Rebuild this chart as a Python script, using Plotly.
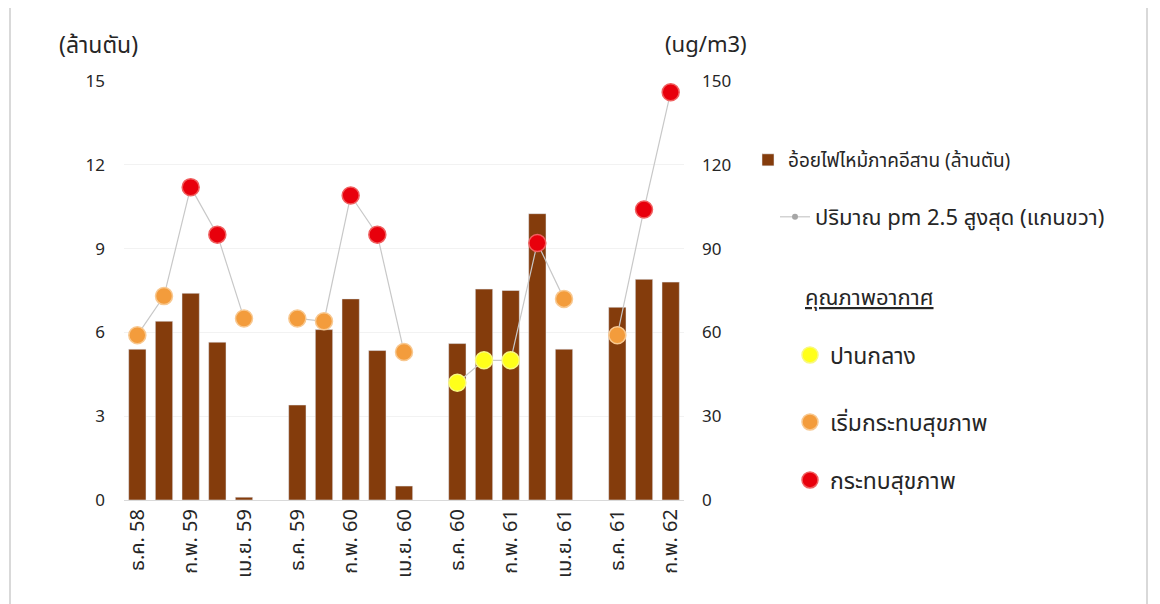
import plotly.graph_objects as go

categories = ["ธ.ค. 58", "ม.ค. 59", "ก.พ. 59", "มี.ค. 59", "เม.ย. 59", " ",
              "ธ.ค. 59", "ม.ค. 60", "ก.พ. 60", "มี.ค. 60", "เม.ย. 60", "  ",
              "ธ.ค. 60", "ม.ค. 61", "ก.พ. 61", "มี.ค. 61", "เม.ย. 61", "   ",
              "ธ.ค. 61", "ม.ค. 62", "ก.พ. 62"]
tick_labels = ["ธ.ค. 58", "ก.พ. 59", "เม.ย. 59", "ธ.ค. 59", "ก.พ. 60", "เม.ย. 60",
               "ธ.ค. 60", "ก.พ. 61", "เม.ย. 61", "ธ.ค. 61", "ก.พ. 62"]
sugarcane = [5.4, 6.4, 7.4, 5.65, 0.1, None,
             3.4, 6.1, 7.2, 5.35, 0.5, None,
             5.6, 7.55, 7.5, 10.25, 5.4, None,
             6.9, 7.9, 7.8]
pm25 = [59, 73, 112, 95, 65, None,
        65, 64, 109, 95, 53, None,
        42, 50, 50, 92, 72, None,
        59, 104, 146]
quality = ["o", "o", "r", "r", "o", None,
           "o", "o", "r", "r", "o", None,
           "y", "y", "y", "r", "o", None,
           "o", "r", "r"]

bar_name = "อ้อยไฟไหม้ภาคอีสาน (ล้านตัน)"
line_name = "ปริมาณ pm 2.5 สูงสุด (แกนขวา)"
quality_title = "คุณภาพอากาศ"
quality_names = {"y": "ปานกลาง", "o": "เริ่มกระทบสุขภาพ", "r": "กระทบสุขภาพ"}
quality_colors = {"y": "#FFFF1A", "o": "#F39C3C", "r": "#E8000C"}
quality_lines = {"y": "#F8F880", "o": "#F8C890", "r": "#F06060"}

FONT = "Tahoma, 'Noto Sans Thai', Loma, Garuda, 'Noto Sans', sans-serif"
TXT = "#262626"

fig = go.Figure()
fig.add_trace(go.Bar(x=categories, y=sugarcane, name=bar_name,
                     marker=dict(color="#843C0C"), width=0.65,
                     legend="legend", yaxis="y"))
fig.add_trace(go.Scatter(x=categories, y=pm25, name=line_name, mode="lines+markers",
                         line=dict(color="#C8C8C8", width=1.2),
                         marker=dict(color="#A6A6A6", size=6),
                         connectgaps=False, yaxis="y2", legend="legend2"))

legend_ids = {"y": "legend3", "o": "legend4", "r": "legend5"}
for key in ["y", "o", "r"]:
    ys = [v if q == key else None for v, q in zip(pm25, quality)]
    fig.add_trace(go.Scatter(x=categories, y=ys, name=quality_names[key], mode="markers",
                             marker=dict(color=quality_colors[key], size=17,
                                         line=dict(color=quality_lines[key], width=1.5)),
                             yaxis="y2", legend=legend_ids[key]))

# page body margin offset (8px) compensation
OFF = 8
W, H = 1160 - OFF, 604 - OFF
L, T = 124 - OFF, 81 - OFF
R = W - (684 - OFF)
B = H - (500 - OFF)
pw, ph = W - L - R, H - T - B

def px_x(x):
    return (x - OFF - L) / pw

def px_y(y):
    return (H - B - (y - OFF)) / ph

def leg(xpx, ypx, size):
    return dict(x=px_x(xpx), y=px_y(ypx), xanchor="left", yanchor="middle",
                bgcolor="rgba(0,0,0,0)", font=dict(family=FONT, size=size, color=TXT),
                itemsizing="trace")

fig.update_layout(
    width=W, height=H,
    margin=dict(l=L, r=R, t=T, b=B),
    paper_bgcolor="white", plot_bgcolor="white",
    font=dict(family=FONT, color=TXT),
    xaxis=dict(type="category", categoryorder="array", categoryarray=categories,
               tickmode="array", tickvals=categories[::2], ticktext=tick_labels,
               tickangle=-90, tickfont=dict(size=20, color=TXT, family=FONT),
               showgrid=False, showline=True, linecolor="#D9D9D9", linewidth=1,
               ticks="", range=[-0.5, len(categories) - 0.5]),
    yaxis=dict(range=[0, 15], tickvals=[0, 3, 6, 9, 12, 15], showgrid=True,
               gridcolor="#F2F2F2", zeroline=False, showline=False, ticks="",
               tickfont=dict(size=17, color=TXT, family=FONT), ticklabelstandoff=18),
    yaxis2=dict(range=[0, 150], tickvals=[0, 30, 60, 90, 120, 150], overlaying="y",
                side="right", showgrid=False, zeroline=False, showline=False, ticks="",
                tickfont=dict(size=17, color=TXT, family=FONT), ticklabelstandoff=17),
    legend=leg(748, 160, 19),
    legend2=leg(775, 217, 22),
    legend3=leg(790, 355, 23),
    legend4=leg(790, 422, 23),
    legend5=leg(790, 480, 23),
    showlegend=True,
)

fig.add_annotation(text="(ล้านตัน)", xref="paper", yref="paper", x=px_x(57), y=px_y(46),
                   xanchor="left", yanchor="middle", showarrow=False,
                   font=dict(family=FONT, size=23, color=TXT))
fig.add_annotation(text="(ug/m3)", xref="paper", yref="paper", x=px_x(663), y=px_y(46),
                   xanchor="left", yanchor="middle", showarrow=False,
                   font=dict(family=FONT, size=22, color=TXT))
fig.add_annotation(text="<u>" + quality_title + "</u>", xref="paper", yref="paper",
                   x=px_x(803), y=px_y(298), xanchor="left", yanchor="middle",
                   showarrow=False, font=dict(family=FONT, size=22, color=TXT))

fig.add_shape(type="rect", xref="paper", yref="paper",
              x0=px_x(10), x1=px_x(1147), y0=px_y(640), y1=px_y(6),
              line=dict(color="#D9D9D9", width=2), fillcolor="rgba(0,0,0,0)", layer="below")

fig.write_html("out.html")
